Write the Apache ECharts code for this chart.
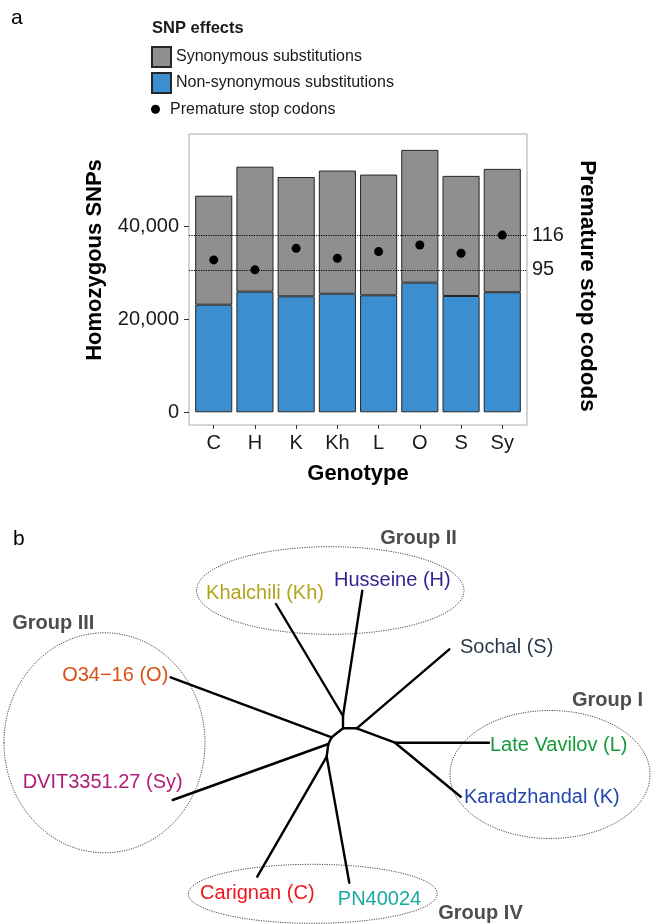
<!DOCTYPE html>
<html><head><meta charset="utf-8">
<script src="https://cdn.jsdelivr.net/npm/echarts@6/dist/echarts.min.js"></script>
<style>html,body{margin:0;padding:0;background:#fff}#chart{width:658px;height:924px}</style>
</head><body><div id="chart"></div>
<script>
// ---------- panel a data ----------
const genotypes = ['C', 'H', 'K', 'Kh', 'L', 'O', 'S', 'Sy'];
const nonSynonymous = [23100, 25900, 24900, 25460, 25120, 27830, 24970, 25770];
const synonymous = [23400, 26830, 25620, 26440, 25920, 28510, 25790, 26490];
const prematureStop = [101, 95, 108, 102, 106, 110, 105, 116];
const snpTicks = [0, 20000, 40000];

// ---------- panel b data (unrooted tree layout, tree units) ----------
const treeNodeIds = ['Kh', 'H', 'S', 'L', 'K', 'O', 'Sy', 'C', 'PN', 'n1', 'n2', 'n3', 'n4', 'n5', 'n6', 'n7'];
const treeNodeX = [-6.70, 1.93, 10.63, 14.60, 11.77, -17.23, -17.03, -8.57, 0.63, 0.00, 0.00, 1.37, 5.20, -1.13, -1.47, -1.63];
const treeNodeY = [12.43, 13.76, 7.90, -1.44, -6.84, 5.10, -7.17, -14.84, -15.44, 1.23, 0.00, 0.00, -1.44, -0.90, -1.57, -2.84];
const treeEdges = [['H', 'n1'], ['Kh', 'n1'], ['n1', 'n2'], ['n2', 'n3'], ['n3', 'S'], ['n3', 'n4'], ['n4', 'L'], ['n4', 'K'],
                   ['n2', 'n5'], ['n5', 'O'], ['n5', 'n6'], ['n6', 'Sy'], ['n6', 'n7'], ['n7', 'C'], ['n7', 'PN']];
const leafIds = ['Kh', 'H', 'S', 'L', 'K', 'O', 'Sy', 'C', 'PN'];
const leafNames = ['Khalchili (Kh)', 'Husseine (H)', 'Sochal (S)', 'Late Vavilov (L)', 'Karadzhandal (K)', 'O34\u221216 (O)', 'DVIT3351.27 (Sy)', 'Carignan (C)', 'PN40024'];
const groupNames = ['Group I', 'Group II', 'Group III', 'Group IV'];
const groupCX = [20.70, -1.27, -23.85, -3.02];
const groupCY = [-4.62, 13.78, -1.45, -16.55];
const groupRX = [10.00, 13.37, 10.05, 12.45];
const groupRY = [6.40, 4.38, 11.00, 2.95];

// ---------- styles ----------
const FONT = 'Liberation Sans, Arial, Helvetica, sans-serif';
const TXT = '#1a1a1a';
const leafStyle = {
  'Kh': { color: '#b3a41e', align: 'center', offset: [-11, -11] },
  'H':  { color: '#3a2294', align: 'center', offset: [30, -10.5] },
  'S':  { color: '#2a3a4c', align: 'left', offset: [10.7, -2] },
  'L':  { color: '#16993a', align: 'left', offset: [1, 2.3] },
  'K':  { color: '#2447ad', align: 'left', offset: [3.3, 0.8] },
  'O':  { color: '#d94f14', align: 'right', offset: [-2.4, -1.8] },
  'Sy': { color: '#b01c7a', align: 'right', offset: [10, -17.5] },
  'C':  { color: '#f0141e', align: 'center', offset: [0, 16.8] },
  'PN': { color: '#17aaa0', align: 'center', offset: [30.2, 16.8] }
};
const groupLabelOffset = [[57.5, -73.8], [88.3, -52.1], [-51.2, -119.8], [167.7, 19.6]];

const nodeIndex = {};
treeNodeIds.forEach((id, i) => { nodeIndex[id] = i; });
const edgeData = treeEdges.map(([a, b]) => {
  const ia = nodeIndex[a], ib = nodeIndex[b];
  return [treeNodeX[ia], treeNodeY[ia], treeNodeX[ib], treeNodeY[ib]];
});
const ellipseData = groupNames.map((g, i) => [groupCX[i], groupCY[i], groupRX[i], groupRY[i]]);
const leafData = leafIds.map((id, i) => {
  const k = nodeIndex[id];
  const st = leafStyle[id];
  return {
    name: leafNames[i],
    value: [treeNodeX[k], treeNodeY[k]],
    label: { color: st.color, align: st.align, offset: st.offset }
  };
});
const groupLabelData = groupNames.map((g, i) => ({
  name: g,
  value: [groupCX[i], groupCY[i]],
  label: { offset: groupLabelOffset[i] }
}));

const chart = echarts.init(document.getElementById('chart'), null, { renderer: 'canvas' });
const option = {
  animation: false,
  textStyle: { fontFamily: FONT },
  title: [
    { text: 'a', left: 11, top: 8, padding: 0, textStyle: { fontFamily: FONT, fontSize: 21, fontWeight: 'normal', color: '#000' } },
    { text: 'SNP effects', left: 152, top: 20, padding: 0, textStyle: { fontFamily: FONT, fontSize: 16.5, fontWeight: 'bold', color: TXT } },
    { text: 'b', left: 13, top: 529, padding: 0, textStyle: { fontFamily: FONT, fontSize: 21, fontWeight: 'normal', color: '#000' } }
  ],
  legend: [
    {
      data: ['Synonymous substitutions', 'Non-synonymous substitutions'],
      orient: 'vertical', left: 151, top: 46, padding: 0,
      itemWidth: 19, itemHeight: 20, itemGap: 4, icon: 'rect', selectedMode: false,
      textStyle: { fontFamily: FONT, fontSize: 16, color: TXT }
    },
    {
      data: ['Premature stop codons'],
      orient: 'vertical', left: 151, top: 101.3, padding: 0,
      itemWidth: 19, itemHeight: 9, icon: 'circle', selectedMode: false,
      textStyle: { fontFamily: FONT, fontSize: 16, color: TXT }
    }
  ],
  grid: [
    { left: 189, top: 134, width: 338, height: 291, show: true, borderColor: '#a9a9a9', borderWidth: 1, backgroundColor: 'transparent', containLabel: false },
    { left: 0, top: 520, width: 658, height: 404, show: false, containLabel: false }
  ],
  xAxis: [
    {
      gridIndex: 0, type: 'value', min: -0.6, max: 7.6, position: 'bottom',
      axisLine: { show: false, onZero: false },
      splitLine: { show: false },
      axisTick: { show: true, inside: false, customValues: genotypes.map((g, i) => i), length: 4, lineStyle: { color: '#333', width: 1 } },
      axisLabel: { customValues: genotypes.map((g, i) => i), formatter: v => genotypes[Math.round(v)], fontFamily: FONT, fontSize: 20, color: TXT, margin: 8 },
      name: 'Genotype', nameLocation: 'middle', nameGap: 38,
      nameTextStyle: { fontFamily: FONT, fontSize: 22, fontWeight: 'bold', color: '#000' }
    },
    { gridIndex: 1, type: 'value', min: -34.3, max: 31.5, show: false }
  ],
  yAxis: [
    {
      gridIndex: 0, type: 'value', min: -2730, max: 59750, position: 'left',
      axisLine: { show: false, onZero: false },
      splitLine: { show: false },
      axisTick: { show: true, inside: false, customValues: snpTicks, length: 5, lineStyle: { color: '#333', width: 1 } },
      axisLabel: { customValues: snpTicks, formatter: v => v.toLocaleString('en-US'), fontFamily: FONT, fontSize: 20, color: TXT, margin: 10 },
      name: 'Homozygous SNPs', nameLocation: 'middle', nameGap: 83, nameRotate: 90,
      nameTextStyle: { fontFamily: FONT, fontSize: 22, fontWeight: 'bold', color: '#000', padding: [0, 0, 0, 39] }
    },
    {
      gridIndex: 0, type: 'value', min: 1.2, max: 177.1, position: 'right',
      axisLine: { show: false, onZero: false }, axisTick: { show: false }, axisLabel: { show: false }, splitLine: { show: false },
      name: 'Premature stop codods', nameLocation: 'middle', nameGap: 49, nameRotate: -90,
      nameTextStyle: { fontFamily: FONT, fontSize: 22.5, fontWeight: 'bold', color: '#000', padding: [0, 0, 0, 13] }
    },
    { gridIndex: 1, type: 'value', min: -19.57, max: 20.83, show: false }
  ],
  series: [
    {
      name: 'Non-synonymous substitutions', type: 'bar', xAxisIndex: 0, yAxisIndex: 0, stack: 'snp',
      barWidth: '90%', encode: { x: 1, y: 0 },
      data: nonSynonymous.map((v, i) => [v, i]),
      itemStyle: { color: '#3b8fd1', borderColor: '#262626', borderWidth: 1 }
    },
    {
      name: 'Synonymous substitutions', type: 'bar', xAxisIndex: 0, yAxisIndex: 0, stack: 'snp',
      barWidth: '90%', encode: { x: 1, y: 0 },
      data: synonymous.map((v, i) => [v, i]),
      itemStyle: { color: '#8f8f8f', borderColor: '#262626', borderWidth: 1 }
    },
    {
      name: 'Premature stop codons', type: 'scatter', xAxisIndex: 0, yAxisIndex: 1, z: 5,
      data: prematureStop.map((v, i) => [i, v]),
      symbolSize: 9, itemStyle: { color: '#000', opacity: 1 },
      markLine: {
        silent: true, symbol: ['none', 'none'],
        lineStyle: { type: 'dotted', color: '#000', width: 1.2, opacity: 1 },
        label: { show: true, position: 'end', formatter: '{c}', fontFamily: FONT, fontSize: 20, color: TXT, distance: 5 },
        data: [{ yAxis: Math.max(...prematureStop) }, { yAxis: Math.min(...prematureStop) }]
      }
    },
    {
      name: 'groups', type: 'custom', xAxisIndex: 1, yAxisIndex: 2, silent: true,
      encode: { x: 0, y: 1 },
      data: ellipseData,
      renderItem: (params, api) => {
        const c = api.coord([api.value(0), api.value(1)]);
        const s = api.size([api.value(2), api.value(3)]);
        return {
          type: 'ellipse',
          shape: { cx: c[0], cy: c[1], rx: s[0], ry: s[1] },
          style: { fill: null, stroke: '#4a4a4a', lineWidth: 1, lineDash: [1.2, 1.2] }
        };
      }
    },
    {
      name: 'tree', type: 'custom', xAxisIndex: 1, yAxisIndex: 2, silent: true,
      encode: { x: [0, 2], y: [1, 3] },
      data: edgeData,
      renderItem: (params, api) => {
        const p1 = api.coord([api.value(0), api.value(1)]);
        const p2 = api.coord([api.value(2), api.value(3)]);
        return {
          type: 'line',
          shape: { x1: p1[0], y1: p1[1], x2: p2[0], y2: p2[1] },
          style: { stroke: '#000', lineWidth: 2.4, lineCap: 'round' }
        };
      }
    },
    {
      name: 'leaves', type: 'scatter', xAxisIndex: 1, yAxisIndex: 2, silent: true, z: 6,
      symbolSize: 1, itemStyle: { color: 'transparent', opacity: 1 },
      label: { show: true, position: 'inside', formatter: '{b}', fontFamily: FONT, fontSize: 20, verticalAlign: 'middle', opacity: 1 },
      data: leafData
    },
    {
      name: 'groupLabels', type: 'scatter', xAxisIndex: 1, yAxisIndex: 2, silent: true, z: 6,
      symbolSize: 1, itemStyle: { color: 'transparent', opacity: 1 },
      label: { show: true, position: 'inside', formatter: '{b}', fontFamily: FONT, fontSize: 20, fontWeight: 'bold', color: '#4d4d4d', align: 'center', verticalAlign: 'middle', opacity: 1 },
      data: groupLabelData
    }
  ]
};
chart.setOption(option);
</script>
</body></html>
